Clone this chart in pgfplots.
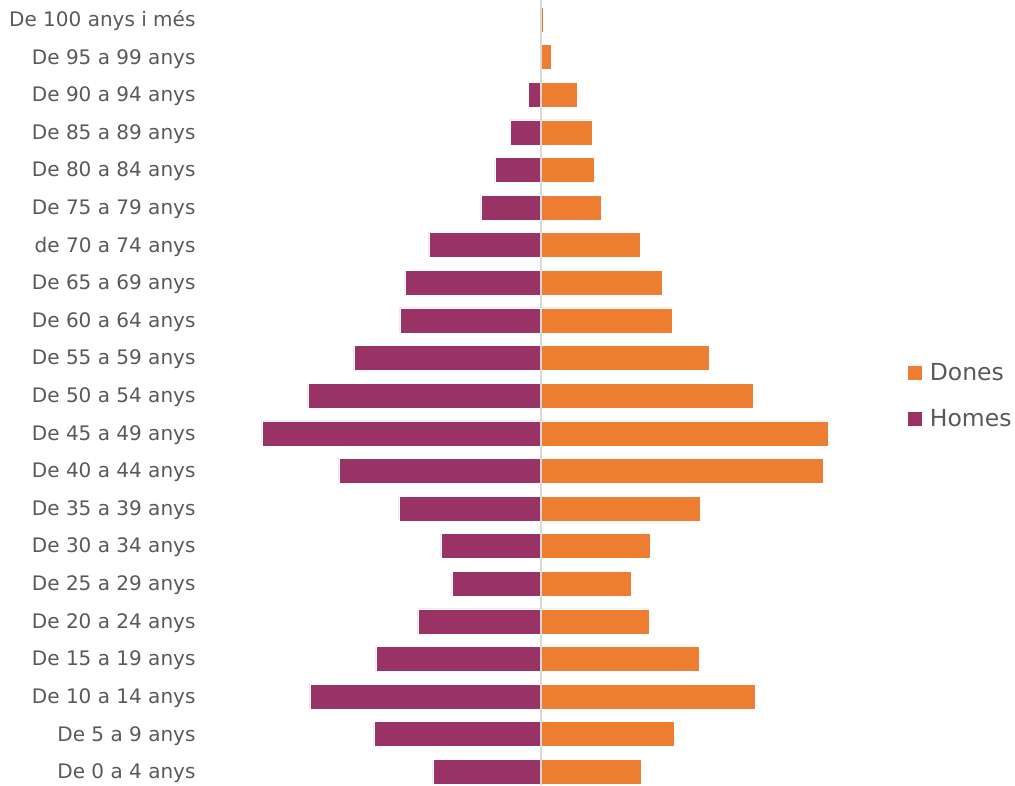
\documentclass[border=0pt]{standalone}
\usepackage{pgfplots}
\pgfplotsset{compat=1.18}
\usepackage{fontspec}
\setmainfont{DejaVu Sans}
\definecolor{homes}{HTML}{993366}
\definecolor{dones}{HTML}{ED7D31}
\definecolor{txt}{HTML}{595959}
\definecolor{midline}{HTML}{D9D9D9}
\begin{document}
\begin{tikzpicture}
\begin{axis}[
  name=ax,
  scale only axis,
  width=680pt, height=785pt,
  xmin=-341, xmax=339,
  ymin=-0.35, ymax=20.52,
  xbar, bar width=25pt, bar shift=0pt,
  axis line style={draw=none},
  xtick=\empty,
  ytick={0,...,20},
  major tick length=0pt,
  yticklabels={De 0 a 4 anys, De 5 a 9 anys, De 10 a 14 anys, De 15 a 19 anys, De 20 a 24 anys, De 25 a 29 anys, De 30 a 34 anys, De 35 a 39 anys, De 40 a 44 anys, De 45 a 49 anys, De 50 a 54 anys, De 55 a 59 anys, De 60 a 64 anys, De 65 a 69 anys, de 70 a 74 anys, De 75 a 79 anys, De 80 a 84 anys, De 85 a 89 anys, De 90 a 94 anys, De 95 a 99 anys, De 100 anys i més},
  yticklabel style={font=\fontsize{20}{24}\selectfont, text=txt, anchor=east, xshift=-1pt, yshift=-1.5pt},
  clip=false,
  reverse legend,
  legend cell align=left,
  legend style={at={(1.037,0.496)}, anchor=west, draw=none, fill=none,
    font=\fontsize{23.5}{27}\selectfont, text=txt, row sep=23pt,
    /tikz/every odd column/.append style={column sep=6pt}},
]
\addplot[fill=homes, draw=white, line width=0.5pt,
  legend image code/.code={\fill[homes] (0pt,-6.5pt) rectangle (13pt,6.5pt);}]
  coordinates {
  (-108,0) (-167,1) (-231,2) (-165,3) (-123,4) (-89,5) (-100,6) (-142,7)
  (-202,8) (-279,9) (-233,10) (-187,11) (-141,12) (-136,13) (-112,14)
  (-60,15) (-46,16) (-31,17) (-13,18) (-2,19) (0,20)};
\addlegendentry{Homes}
\addplot[fill=dones, draw=white, line width=0.5pt,
  legend image code/.code={\fill[dones] (0pt,-6.5pt) rectangle (13pt,6.5pt);}]
  coordinates {
  (100,0) (133,1) (214,2) (158,3) (108,4) (90,5) (109,6) (159,7)
  (282,8) (287,9) (212,10) (168,11) (131,12) (121,13) (99,14)
  (60,15) (53,16) (51,17) (36,18) (10,19) (1.8,20)};
\addlegendentry{Dones}
\draw[midline, line width=1.6pt] ({axis cs:0,0}|-{rel axis cs:0,0}) -- ({axis cs:0,0}|-{rel axis cs:0,1});
\end{axis}
\pgfresetboundingbox
\path (-200pt,0pt) rectangle (815pt,785pt);
\end{tikzpicture}
\end{document}
